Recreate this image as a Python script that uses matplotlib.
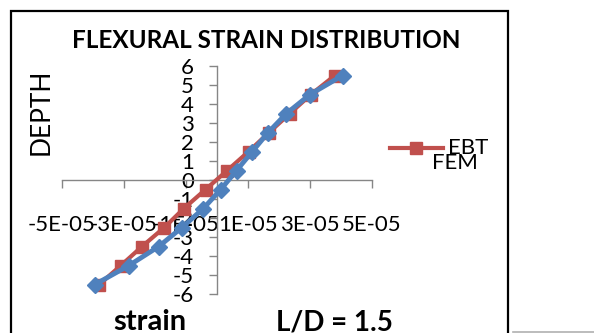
import matplotlib
matplotlib.use("Agg")
import matplotlib.pyplot as plt
from matplotlib.lines import Line2D
from matplotlib.patches import Rectangle

# ---- data ----
depth = [-5.5, -4.5, -3.5, -2.5, -1.5, -0.5, 0.5, 1.5, 2.5, 3.5, 4.5, 5.5]
ebt_strain = [-3.8e-5, -3.1e-5, -2.42e-5, -1.7e-5, -1.07e-5, -0.37e-5,
              0.33e-5, 1.02e-5, 1.68e-5, 2.35e-5, 3.03e-5, 3.8e-5]
fem_strain = [-3.94e-5, -2.84e-5, -1.88e-5, -1.13e-5, -0.44e-5, 0.12e-5,
              0.63e-5, 1.14e-5, 1.65e-5, 2.24e-5, 3.0e-5, 4.05e-5]
x_ticks = [-5e-5, -3e-5, -1e-5, 1e-5, 3e-5, 5e-5]
x_tick_labels = ["-5E-05", "-3E-05", "-1E-05", "1E-05", "3E-05", "5E-05"]
y_ticks = [-6, -5, -4, -3, -2, -1, 0, 1, 2, 3, 4, 5, 6]
y_tick_labels = [str(v) for v in y_ticks]

RED = "#C0504D"
BLUE = "#4F81BD"
AXC = "#868686"
FONT = ["Lato", "DejaVu Sans"]
plt.rcParams["font.family"] = FONT

W, H = 594, 333
fig = plt.figure(figsize=(W / 100, H / 100), dpi=100)
fig.patch.set_facecolor("white")

def fx(px):
    return px / W

def fy(py):
    return 1 - py / H

# outer chart frame
fig.patches.append(Rectangle((fx(11), fy(345)), fx(508) - fx(11), fy(11) - fy(345),
                             transform=fig.transFigure, fill=False,
                             edgecolor="black", linewidth=1.6, zorder=10))
fig.add_artist(Line2D([fx(513), fx(594)], [fy(331.5), fy(331.5)],
                      transform=fig.transFigure, color="#B0B0B0", linewidth=1.2))

ax = fig.add_axes([fx(62), fy(294), fx(372) - fx(62), fy(66) - fy(294)])
ax.set_xlim(-5e-5, 5e-5)
ax.set_ylim(-6, 6)
ax.patch.set_alpha(0)

for s in ["top", "right"]:
    ax.spines[s].set_visible(False)
ax.spines["left"].set_position(("data", 0))
ax.spines["bottom"].set_position(("data", 0))
for s in ["left", "bottom"]:
    ax.spines[s].set_color(AXC)
    ax.spines[s].set_linewidth(1.0)

ax.set_xticks(x_ticks)
ax.set_xticklabels(x_tick_labels)
ax.set_yticks(y_ticks)
ax.set_yticklabels(y_tick_labels)
ax.tick_params(axis="x", direction="out", length=5.5, width=1.0, color=AXC,
               labelsize=16, pad=20, labelcolor="black")
ax.tick_params(axis="y", direction="out", length=5.5, width=1.0, color=AXC,
               labelsize=16, pad=11, labelcolor="black")

ax.plot(ebt_strain, depth, color=RED, linewidth=3, marker="s", markersize=8,
        zorder=3, label="EBT", clip_on=False)
ax.plot(fem_strain, depth, color=BLUE, linewidth=3.5, marker="D", markersize=8,
        zorder=4, label="FEM", clip_on=False)

# titles and labels
fig.text(fx(266), fy(40), "FLEXURAL STRAIN DISTRIBUTION", ha="center", va="center",
         fontsize=17.5, fontweight="bold")
fig.text(fx(41), fy(112), "DEPTH", ha="center", va="center", rotation=90, fontsize=19)
fig.text(fx(150), fy(322), "strain", ha="center", va="center", fontsize=21,
         fontweight="bold")
fig.text(fx(334), fy(322), "L/D = 1.5", ha="center", va="center", fontsize=20,
         fontweight="bold")

# legend (manual, as in reference)
fig.add_artist(Line2D([fx(390), fx(443)], [fy(148), fy(148)], transform=fig.transFigure,
                      color=RED, linewidth=3))
fig.add_artist(Line2D([fx(416)], [fy(148)], transform=fig.transFigure, color=RED,
                      marker="s", markersize=8, linestyle="none"))
fig.text(fx(448), fy(148), "EBT", ha="left", va="center", fontsize=16)
fig.text(fx(432), fy(163), "FEM", ha="left", va="center", fontsize=16)

fig.savefig("out.png", dpi=100)
